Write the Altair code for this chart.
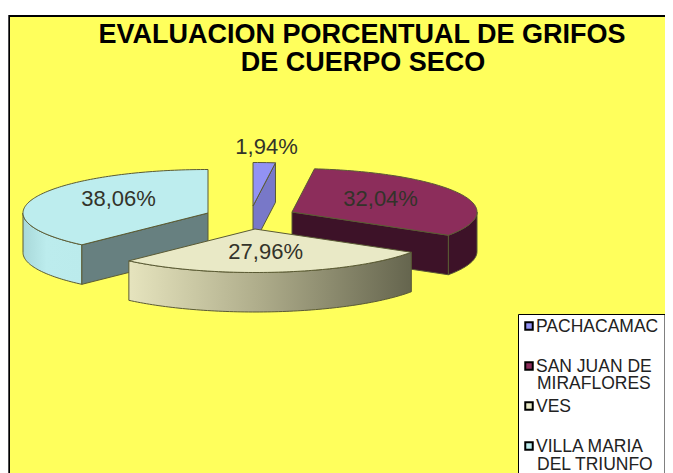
import numpy as np
import pandas as pd
import altair as alt

# --- data ---
categories = ["PACHACAMAC", "SAN JUAN DE MIRAFLORES", "VES", "VILLA MARIA DEL TRIUNFO"]
shares = [1.94, 32.04, 27.96, 38.06]
labels = ["1,94%", "32,04%", "27,96%", "38,06%"]
title_lines = ["EVALUACION PORCENTUAL DE GRIFOS", "DE CUERPO SECO"]
legend_lines = [["PACHACAMAC"], ["SAN JUAN DE", "MIRAFLORES"], ["VES"], ["VILLA MARIA", "DEL TRIUNFO"]]

# --- geometry / style ---
W, H = 657, 470
X0, Y0 = 8, 8
XMAX, YMAX = X0 + W, Y0 + H
RX, RY, DEPTH = 185.0, 43.5, 39.5
apex = [(253, 206), (292, 212), (255, 229), (208, 213)]
label_k = [(1.2, 1.36), (0.53, 0.7), (0.45, 0.53), (0.52, 0.9)]
tops = ["#9292F4", "#8C2D5B", "#E9E9C6", "#BDEDEE"]
EDGE = "#5A5A34"
YELLOW = "#FFFF5C"

xs = alt.Scale(domain=[X0, XMAX], range=[0, W], nice=False, zero=False)
ys = alt.Scale(domain=[YMAX, Y0], range=[H, 0], nice=False, zero=False)
X = lambda f: alt.X(f, type="quantitative", scale=xs, axis=None)
Y = lambda f: alt.Y(f, type="quantitative", scale=ys, axis=None)

# slice angles, clockwise from 12 o'clock
cum = np.cumsum([0] + shares) / 100.0 * 2 * np.pi
ang = [(cum[i], cum[i + 1]) for i in range(4)]


def pt(i, a, dz=0.0, k=1.0):
    ax, ay = apex[i]
    return ax + RX * k * np.sin(a), ay - RY * k * np.cos(a) + dz


def arc(i, a, b, dz=0.0):
    n = max(2, int(abs(b - a) / 0.02))
    return [pt(i, t, dz) for t in np.linspace(a, b, n)]


def poly(points, fill, sw=1.0):
    pts = list(points) + [points[0]]
    df = pd.DataFrame({"x": [p[0] for p in pts], "y": [p[1] for p in pts], "i": range(len(pts))})
    return alt.Chart(df).mark_line(fill=fill, stroke=EDGE, strokeWidth=sw, strokeJoin="round").encode(
        x=X("x"), y=Y("y"), order=alt.Order("i:Q")
    )


def grad(stops):
    return alt.Gradient(
        gradient="linear", x1=0, y1=0, x2=1, y2=0,
        stops=[alt.GradientStop(offset=o, color=c) for o, c in stops],
    )


def top(i):
    a, b = ang[i]
    return poly([apex[i]] + arc(i, a, b), tops[i])


def rim(i, a, b, fill):
    return poly(arc(i, a, b) + arc(i, b, a, DEPTH), fill)


def inner(i, a, fill):
    p = pt(i, a)
    q = pt(i, a, DEPTH)
    ap = apex[i]
    return poly([ap, p, q, (ap[0], ap[1] + DEPTH)], fill)


HALF = np.pi / 2
layers = []

# frame
frame = pd.DataFrame({"x": [8.3], "x2": [XMAX], "y": [15], "y2": [YMAX]})
layers.append(alt.Chart(frame).mark_rect(color="#000000").encode(x=X("x"), x2="x2", y=Y("y"), y2="y2"))
paper = pd.DataFrame({"x": [10], "x2": [XMAX], "y": [17], "y2": [YMAX]})
layers.append(alt.Chart(paper).mark_rect(color=YELLOW).encode(x=X("x"), x2="x2", y=Y("y"), y2="y2"))

# pachacamac
layers += [inner(0, ang[0][1], "#7878C8"), top(0)]
# villa maria
layers += [
    rim(3, ang[3][0], 1.5 * np.pi, grad([(0, "#A8D8D9"), (0.4, "#BCECED"), (1, "#BBEBEC")])),
    inner(3, ang[3][0], "#678080"),
    top(3),
]
# san juan
layers += [rim(1, HALF, ang[1][1], "#3D1228"), inner(1, ang[1][1], "#3D1228"), top(1)]
# ves
layers += [
    rim(2, ang[2][0], ang[2][1], grad([(0, "#E6E4BE"), (0.45, "#B0AE8C"), (1, "#65654E")])),
    top(2),
]

# data labels
lab = []
for i, t in enumerate(labels):
    a = (ang[i][0] + ang[i][1]) / 2
    kx, ky = label_k[i]
    lab.append({
        "x": apex[i][0] + RX * kx * np.sin(a),
        "y": apex[i][1] - RY * ky * np.cos(a),
        "t": t,
    })
layers.append(
    alt.Chart(pd.DataFrame(lab)).mark_text(font="Liberation Sans", fontSize=22, color="#33332A").encode(
        x=X("x"), y=Y("y"), text="t:N"
    )
)

# title
tdf = pd.DataFrame({"t": title_lines, "x": [362, 363], "y": [35, 63]})
layers.append(
    alt.Chart(tdf).mark_text(font="Liberation Sans", fontSize=27, fontWeight="bold", color="#000000").encode(
        x=X("x"), y=Y("y"), text="t:N"
    )
)

# legend box
box = pd.DataFrame({"x": [518.5], "x2": [XMAX], "y": [314.5], "y2": [YMAX]})
layers.append(
    alt.Chart(box).mark_rect(fill="#FFFFFF", stroke="#000000", strokeWidth=1).encode(
        x=X("x"), x2="x2", y=Y("y"), y2="y2"
    )
)
sw = pd.DataFrame({"x": [529] * 4, "y": [326, 366, 406, 446], "c": categories})
layers.append(
    alt.Chart(sw).mark_point(shape="square", size=56, filled=True, stroke="#000000", strokeWidth=2, opacity=1).encode(
        x=X("x"), y=Y("y"),
        fill=alt.Fill("c:N", scale=alt.Scale(domain=categories, range=tops), legend=None),
    )
)
rows = [
    (legend_lines[0][0], 536, 327),
    (legend_lines[1][0], 536, 367),
    (legend_lines[1][1], 537, 384),
    (legend_lines[2][0], 536, 407),
    (legend_lines[3][0], 536, 447),
    (legend_lines[3][1], 537, 465),
]
ldf = pd.DataFrame(rows, columns=["t", "x", "y"])
layers.append(
    alt.Chart(ldf).mark_text(font="Liberation Sans", fontSize=17.5, align="left", color="#222222").encode(
        x=X("x"), y=Y("y"), text="t:N"
    )
)

chart = (
    alt.layer(*layers)
    .properties(width=W, height=H, padding=0, background="#FFFFFF",
                autosize=alt.AutoSizeParams(type="none"))
    .configure_view(stroke=None)
)
chart.save("out.html", embed_options={"renderer": "svg", "actions": False})
